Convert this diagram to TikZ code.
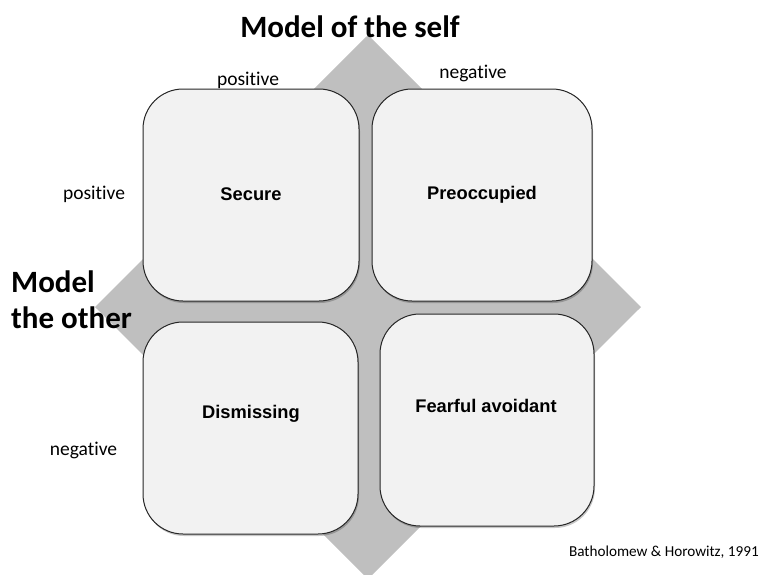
\documentclass[tikz,border=0pt]{standalone}
\usepackage{fontspec}
\setmainfont{Carlito}[Ligatures=NoCommon]
\newfontfamily\boxfont{Liberation Sans}
\usetikzlibrary{shadows}
\definecolor{diamondgray}{HTML}{BFBFBF}
\definecolor{boxfill}{HTML}{F2F2F2}
\definecolor{boxline}{HTML}{262626}
\begin{document}
\begin{tikzpicture}[x=1pt,y=-1pt,
  quadrant/.style={draw=boxline, line width=1pt, fill=boxfill,
    rounded corners=40pt, inner sep=0pt,
    drop shadow={shadow xshift=1pt, shadow yshift=-2pt, opacity=0.22, fill=black}},
  stylename/.style={font=\boxfont\bfseries\fontsize{18.3}{22}\selectfont,
    anchor=base, inner sep=0pt},
  axislabel/.style={font=\fontsize{19.5}{23}\selectfont, anchor=base, inner sep=0pt},
  heading/.style={font=\bfseries\fontsize{31}{36}\selectfont, inner sep=0pt},
  citation/.style={font=\fontsize{15.2}{18}\selectfont, anchor=base east, inner sep=0pt},
]
\useasboundingbox (0,0) rectangle (764,574);
\clip (0,0) rectangle (764,574);

% grey diamond behind the four quadrants
\fill[diamondgray] (368,35) -- (641,307) -- (368,579) -- (95,307) -- cycle;

% the four attachment styles
\node[quadrant, minimum width=216pt, minimum height=212pt] (secure) at (251,195) {};
\node[quadrant, minimum width=220pt, minimum height=212pt] (preocc) at (482,195) {};
\node[quadrant, minimum width=215pt, minimum height=212pt] (dismiss) at (250.5,428) {};
\node[quadrant, minimum width=214pt, minimum height=212pt] (fearful) at (487,420) {};

\node[stylename] (secureT) at (251,200) {Secure};
\node[stylename] (preoccT) at (482,199) {Preoccupied};
\node[stylename] (dismissT) at (251,418) {Dismissing};
\node[stylename] (fearfulT) at (486,412) {Fearful avoidant};

% axis titles
\node[heading, anchor=base] (selfaxis) at (350,37) {Model of the self};
\node[heading, anchor=base west] (otheraxisA) at (11,292) {Model};
\node[heading, anchor=base west] (otheraxisB) at (11,328) {the other};

% axis values
\node[axislabel] (selfpos) at (248,85) {positive};
\node[axislabel] (selfneg) at (473,78) {negative};
\node[axislabel] (otherpos) at (94,199) {positive};
\node[axislabel] (otherneg) at (83.5,455) {negative};

\node[citation] (source) at (759,556) {Batholomew \& Horowitz, 1991};
\end{tikzpicture}
\end{document}
